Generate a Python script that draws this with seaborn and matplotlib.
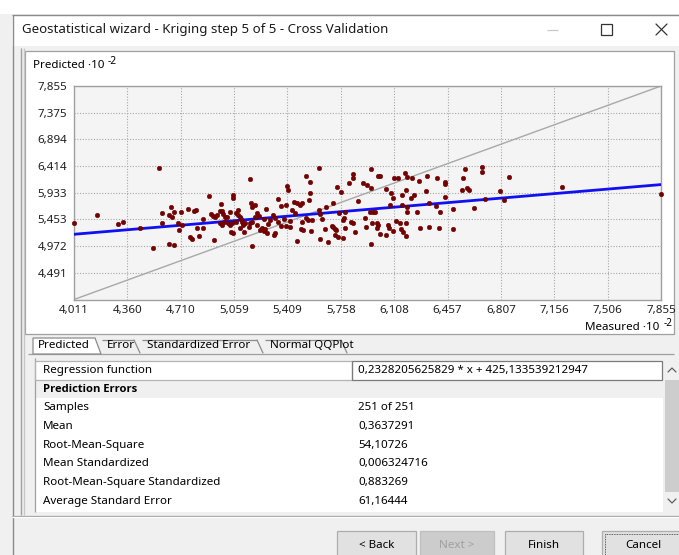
import numpy as np
import pandas as pd
import seaborn as sns
import matplotlib.pyplot as plt
from matplotlib.patches import Rectangle, Polygon

# Cross-validation results (values in native units; axes show them as x10^-2)
measured = [
    401.1, 416.2, 429.9, 433.2, 444.3, 452.8, 456.8, 458.7, 458.7, 463.3,
    466.6, 464.6, 463.3, 465.3, 466.6, 471.2, 469.2, 471.8, 469.9, 475.8,
    479.7, 485.6, 481.7, 485.6, 477.1, 478.4, 483.0, 489.5, 492.8, 490.8,
    492.1, 493.4, 494.8, 497.4, 496.7, 498.0, 498.7, 500.0, 501.3, 496.7,
    498.0, 499.3, 502.0, 503.3, 504.6, 505.2, 505.2, 503.9, 505.2, 507.2,
    508.5, 509.8, 510.5, 511.1, 507.2, 509.8, 511.8, 513.1, 517.0, 517.7,
    516.4, 515.7, 517.7, 517.7, 519.6, 521.0, 522.3, 519.6, 521.0, 522.9,
    524.2, 526.2, 527.5, 516.4, 512.4, 526.8, 531.4, 532.7, 532.1, 532.7,
    525.5, 534.7, 536.7, 539.9, 540.6, 541.3, 543.9, 545.8, 545.2, 547.1,
    550.4, 536.7, 539.9, 542.6, 547.1, 549.8, 550.4, 529.5, 534.7, 528.2,
    538.6, 542.6, 525.5, 503.3, 508.5, 481.0, 561.6, 553.0, 555.7, 583.8,
    583.8, 581.2, 595.6, 600.2, 601.5, 590.4, 593.0, 595.6, 610.7, 613.3,
    617.9, 619.2, 573.3, 576.0, 555.7, 555.0, 549.1, 566.1, 570.7, 587.1,
    605.4, 608.7, 610.0, 615.9, 618.5, 608.1, 615.9, 619.2, 595.0, 596.9,
    598.2, 578.6, 574.7, 561.6, 562.2, 553.0, 554.3, 557.0, 563.5, 577.9,
    577.3, 582.5, 583.8, 591.7, 596.3, 599.5, 600.2, 612.0, 614.6, 618.5,
    551.1, 556.3, 565.5, 570.1, 570.7, 572.0, 572.7, 578.6, 585.1, 592.3,
    599.5, 601.5, 606.7, 607.4, 610.0, 615.3, 616.6, 572.0, 574.0, 577.3,
    562.2, 567.5, 595.6, 605.4, 622.5, 627.0, 632.3, 638.8, 644.1, 644.1,
    657.2, 655.9, 668.3, 668.3, 686.0, 623.8, 621.8, 631.6, 644.1, 655.2,
    658.5, 659.8, 680.1, 682.7, 633.6, 638.2, 625.7, 640.8, 649.3, 663.1,
    670.3, 627.7, 633.6, 640.1, 649.3, 720.7, 785.5, 618.5, 619.2,
]
predicted = [
    538.8, 553.2, 537.0, 540.6, 529.8, 493.8, 637.9, 556.8, 538.8, 501.0,
    499.2, 567.7, 553.2, 549.6, 558.6, 558.6, 538.8, 535.2, 526.2, 564.1,
    560.4, 546.0, 529.8, 529.8, 513.6, 510.0, 515.4, 587.5, 508.2, 555.0,
    551.4, 549.6, 553.2, 573.1, 560.4, 560.4, 555.0, 549.6, 549.6, 538.8,
    535.2, 540.6, 538.8, 535.2, 538.8, 589.3, 583.9, 522.6, 520.8, 556.8,
    553.2, 549.6, 546.0, 540.6, 540.6, 529.8, 535.2, 538.8, 574.9, 567.7,
    538.8, 531.6, 540.6, 497.4, 571.3, 556.8, 551.4, 549.6, 535.2, 526.2,
    529.8, 528.0, 520.8, 618.1, 522.6, 564.1, 553.2, 547.8, 517.2, 520.8,
    524.4, 582.1, 569.5, 571.3, 605.5, 598.3, 562.2, 556.8, 576.7, 574.9,
    574.9, 533.4, 533.4, 531.6, 506.4, 528.0, 540.6, 544.2, 540.6, 537.0,
    546.0, 542.4, 546.0, 558.6, 562.2, 562.2, 637.9, 623.5, 612.7, 627.1,
    619.9, 610.9, 636.1, 623.5, 623.5, 610.9, 607.3, 601.9, 619.9, 619.9,
    628.9, 621.7, 603.7, 594.7, 592.9, 580.3, 571.3, 567.7, 574.9, 578.5,
    600.1, 592.9, 583.9, 589.3, 598.3, 571.3, 571.3, 567.7, 558.6, 558.6,
    558.6, 558.6, 556.8, 562.2, 555.0, 547.8, 544.2, 544.2, 546.0, 547.8,
    544.2, 540.6, 538.8, 547.8, 538.8, 538.8, 535.2, 542.4, 538.8, 538.8,
    526.2, 524.4, 528.0, 533.4, 531.6, 528.0, 526.2, 529.8, 522.6, 531.6,
    529.8, 519.0, 535.2, 529.8, 524.4, 528.0, 522.6, 517.2, 513.6, 511.8,
    510.0, 504.6, 501.0, 517.2, 619.9, 614.5, 623.5, 619.9, 612.7, 609.1,
    636.1, 619.9, 639.7, 630.7, 621.7, 589.3, 583.9, 596.5, 585.7, 598.3,
    601.9, 598.3, 596.5, 580.3, 574.9, 569.5, 558.6, 558.6, 564.1, 565.9,
    582.1, 529.8, 531.6, 529.8, 528.0, 603.7, 591.1, 515.4, 558.6,
]

axis_min, axis_max = 401.1, 785.5
x_tick_labels = ["4,011", "4,360", "4,710", "5,059", "5,409", "5,758",
                 "6,108", "6,457", "6,807", "7,156", "7,506", "7,855"]
y_tick_labels = ["4,491", "4,972", "5,453", "5,933", "6,414", "6,894",
                 "7,375", "7,855"]

reg_slope = 0.2328205625829
reg_intercept = 425.133539212947
reg_text = "0,2328205625829 * x + 425,133539212947"

tab_names = ["Predicted", "Error", "Standardized Error", "Normal QQPlot"]
stat_names = ["Samples", "Mean", "Root-Mean-Square", "Mean Standardized",
              "Root-Mean-Square Standardized", "Average Standard Error"]
stat_values = ["251 of 251", "0,3637291", "54,10726", "0,006324716",
               "0,883269", "61,16444"]
button_names = ["< Back", "Next >", "Finish", "Cancel"]
window_title = "Geostatistical wizard - Kriging step 5 of 5 - Cross Validation"

sns.set_theme(style="white")
FONT = ["Noto Sans", "DejaVu Sans"]
plt.rcParams["font.family"] = FONT

W, H = 679, 555
fig = plt.figure(figsize=(W / 100, H / 100), dpi=100)
fig.patch.set_facecolor("white")

# Full-size layer in pixel coordinates for the dialog chrome
ui = fig.add_axes([0, 0, 1, 1])
ui.set_xlim(0, W)
ui.set_ylim(H, 0)
ui.axis("off")


def px(v):
    return v * 0.72


def rect(x0, y0, x1, y1, fc="none", ec="none", lw=1.0, z=1, **kw):
    ui.add_patch(Rectangle((x0, y0), x1 - x0, y1 - y0, facecolor=fc,
                           edgecolor=ec, linewidth=lw, zorder=z, **kw))


def hline(y, x0, x1, c, lw=1.0, z=2, **kw):
    ui.plot([x0, x1], [y, y], color=c, lw=lw, zorder=z,
            solid_capstyle="butt", **kw)


def vline(x, y0, y1, c, lw=1.0, z=2, **kw):
    ui.plot([x, x], [y0, y1], color=c, lw=lw, zorder=z,
            solid_capstyle="butt", **kw)


def label(x, y, s, size=11.6, c="#000000", ha="left", weight="normal", z=5,
          family=None):
    ui.text(x, y, s, fontsize=px(size), color=c, ha=ha, va="center",
            fontweight=weight, zorder=z, family=family or FONT)


# window frame and title bar
rect(0, 0, W, H, fc="#f0f0f0", z=0)
rect(0, 0, W, 14, fc="white", z=0.5)
rect(12, 15, W + 2, 46, fc="white", z=0.5)
hline(14.5, 12, W, "#8a8a8a", lw=1)
vline(12.5, 14.5, H, "#8a8a8a", lw=1)
label(22, 30, window_title, size=13.3, c="#1a1a1a")
hline(30, 547, 558, "#c8c8c8", lw=0.9)
rect(601, 24, 612, 35, ec="#333333", lw=0.9, z=3)
ui.plot([656, 667], [24, 35], color="#333333", lw=0.9, zorder=3)
ui.plot([656, 667], [35, 24], color="#333333", lw=0.9, zorder=3)

# chart panel
vline(20.5, 48, 515, "#a0a0a0", lw=1)
vline(23.5, 48, 515, "#c8c8c8", lw=1)
rect(25, 51, 674, 334, fc="white", ec="#a0a0a0", lw=0.9, z=1)

# axis captions with superscript exponents
label(33, 66, "Predicted \u00b710", size=11.6)
label(108, 61, "-2", size=10.2)
label(659, 328, "Measured \u00b710", size=11.6, ha="right")
label(664, 324, "-2", size=10.0)

# tabs
tab_edges = [(33, 99), (99, 139), (139, 262), (262, 346)]
hline(353.5, 28, 674, "#a0a0a0", lw=0.9)
for i, (name, (x0, x1)) in enumerate(zip(tab_names, tab_edges)):
    if i == 0:
        ui.add_patch(Polygon([[x0, 354], [x0, 338], [x1 - 4, 338], [x1 + 2, 354]],
                             closed=True, facecolor="white",
                             edgecolor="#8c8c8c", lw=0.9, zorder=3))
        label(x0 + 5, 346, name)
    else:
        ui.plot([x1 - 5, x1 + 1], [340, 353], color="#8c8c8c", lw=0.9, zorder=3)
        hline(339.5, x0 + 3, x1 - 5, "#8c8c8c", lw=0.9)
        label(x0 + 8, 346, name)

# property table
tab_x0, tab_x1, split_x = 35, 663, 352
row_h = 18.7
row0 = 361
rect(tab_x0, row0, tab_x1, 512, fc="white", z=1)
rect(tab_x0, row0, split_x, row0 + row_h, ec="#b4b4b4", lw=0.9, z=3)
rect(split_x, row0, tab_x1 - 1, row0 + row_h, ec="#7a7a7a", lw=0.9, z=3)
label(43, row0 + row_h / 2, "Regression function")
label(358, row0 + row_h / 2, reg_text)
rect(tab_x0, row0 + row_h, tab_x1, row0 + 2 * row_h, fc="#f0f0f0", z=1.5)
label(43, row0 + 1.5 * row_h, "Prediction Errors", weight="bold",
      family=["Open Sans", "DejaVu Sans"], size=11.2)
for k, (name, val) in enumerate(zip(stat_names, stat_values)):
    yc = row0 + (k + 2.5) * row_h
    label(43, yc, name)
    label(358, yc, val)
vline(34.5, 358, 512, "#a0a0a0", lw=0.9)

# scrollbar
rect(663, row0, W, 512, fc="#f0f0f0", z=1.5)
rect(665, 380, W, 492, fc="#cdcdcd", z=2)
ui.plot([668, 672, 676], [372, 368, 372], color="#606060", lw=0.9, zorder=3)
ui.plot([668, 672, 676], [499, 503, 499], color="#606060", lw=0.9, zorder=3)

# button strip
hline(515.5, 12, W, "#a0a0a0", lw=0.9)
hline(516.5, 12, W, "white", lw=0.9)
buttons = [(337, 416), (420, 494), (505, 583), (602, 684)]
for (x0, x1), name in zip(buttons, button_names):
    disabled = name.startswith("Next")
    rect(x0, 531, x1, 560, fc="#e1e1e1" if not disabled else "#cccccc",
         ec="#adadad" if not disabled else "#bfbfbf", lw=0.9, z=2)
    label((x0 + x1) / 2, 545, name, ha="center",
          c="#a0a0a0" if disabled else "#000000")
rect(605, 534, 681, 557, ec="#333333", lw=0.6, z=3, linestyle=(0, (1, 1)))

# scatter plot of predicted vs measured
ax = fig.add_axes([74 / W, 1 - 299.5 / H, 587 / W, 213.5 / H])
ax.set_facecolor("#f4f4f4")
df = pd.DataFrame({"Measured": measured, "Predicted": predicted})

ref = pd.DataFrame({"x": [axis_min, axis_max], "y": [axis_min, axis_max]})
sns.lineplot(data=ref, x="x", y="y", ax=ax, color="#a8a8a8", lw=1.0, zorder=2)
fit = pd.DataFrame({"x": [axis_min, axis_max]})
fit["y"] = reg_slope * fit["x"] + reg_intercept
sns.lineplot(data=fit, x="x", y="y", ax=ax, color="#1010f0", lw=2.0, zorder=3)
sns.scatterplot(data=df, x="Measured", y="Predicted", ax=ax, color="#7a0000",
                s=11, edgecolor="#5a0000", linewidth=0.3, zorder=4,
                clip_on=False)

ax.set_xlim(axis_min, axis_max)
ax.set_ylim(axis_min, axis_max)
ax.set_xticks(np.linspace(axis_min, axis_max, len(x_tick_labels)))
ax.set_xticklabels(x_tick_labels)
ax.set_yticks(np.linspace(axis_min, axis_max, len(y_tick_labels) + 1)[1:])
ax.set_yticklabels(y_tick_labels)
ax.tick_params(length=0, labelsize=px(11.6), labelcolor="#202020")
ax.tick_params(axis="x", pad=4)
ax.tick_params(axis="y", pad=5)
ax.grid(True, color="#a8a8a8", lw=0.8, linestyle=(0, (1, 1.5)))
ax.set_xlabel("")
ax.set_ylabel("")
for s in ax.spines.values():
    s.set_color("#a0a0a0")
    s.set_linewidth(1.0)

fig.savefig("out.png", dpi=100)
